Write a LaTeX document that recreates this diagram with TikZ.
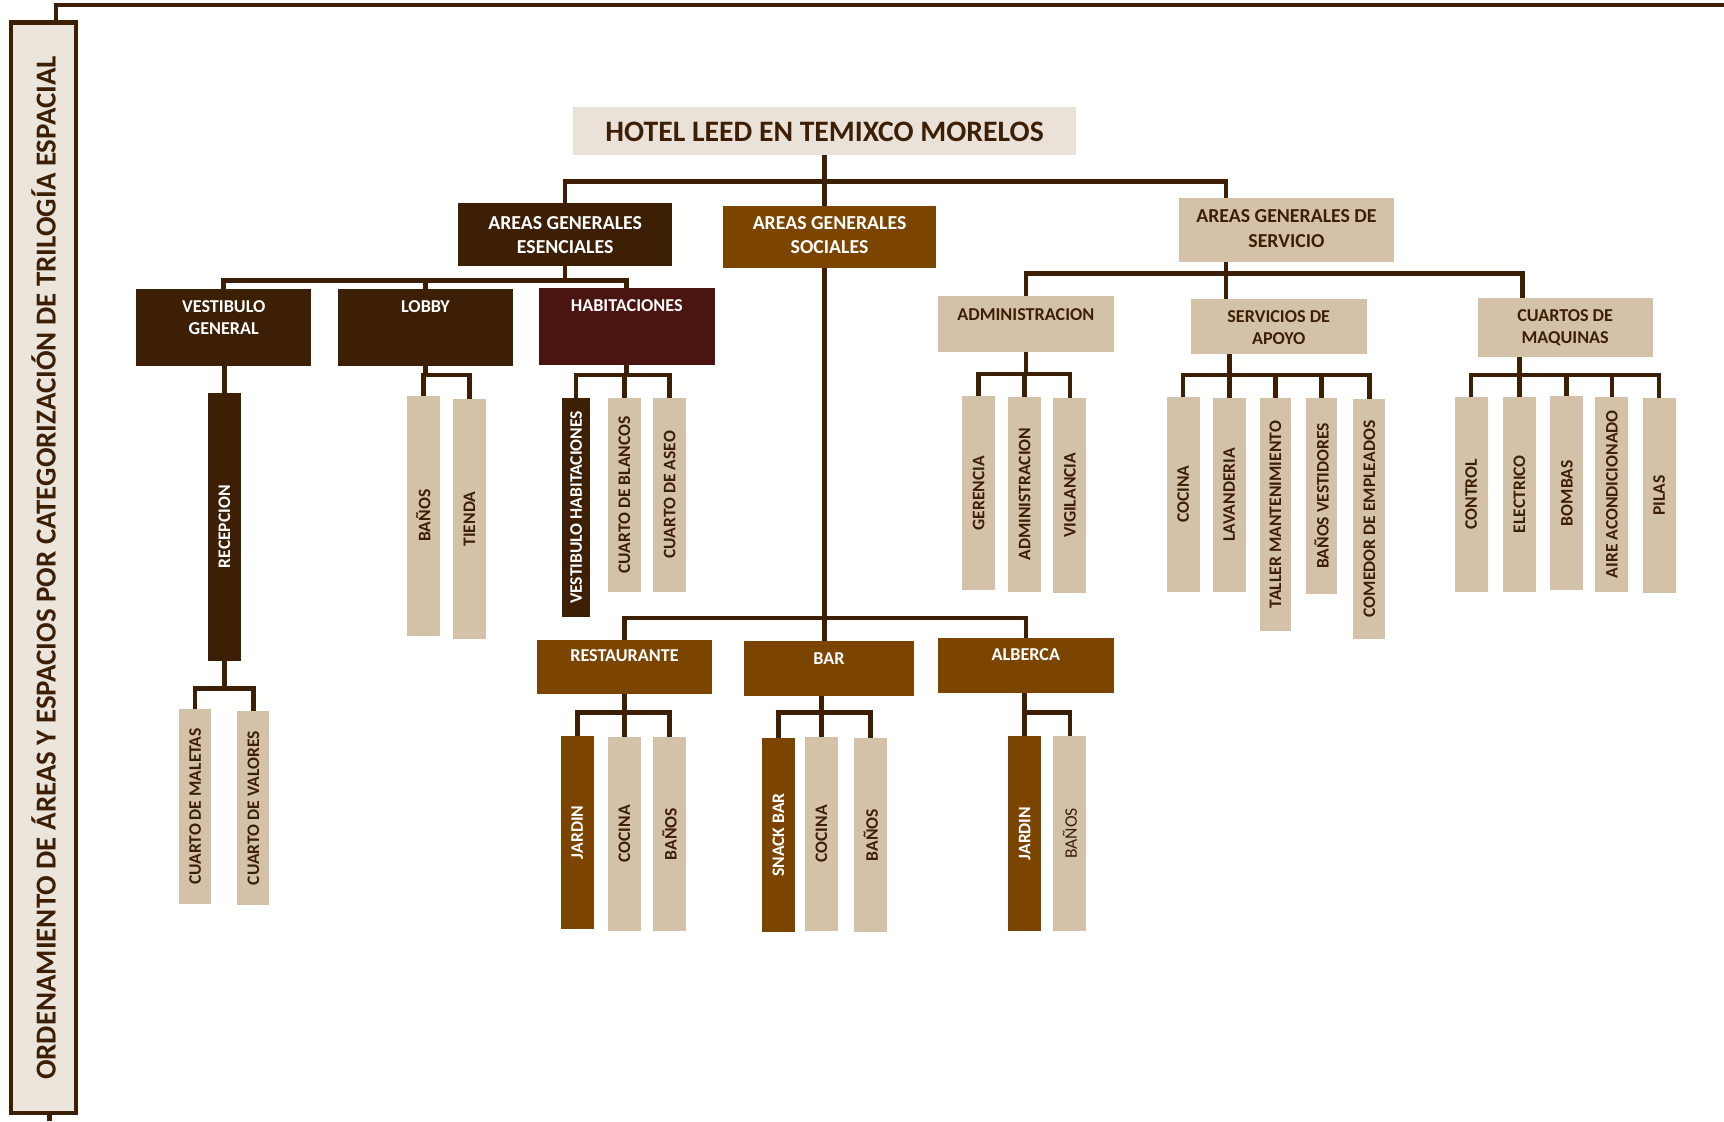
\documentclass[tikz,border=0pt]{standalone}
\usepackage{fontspec}
\setmainfont{Carlito}
\usepackage{graphicx}
\usetikzlibrary{calc}
\definecolor{cDark}{HTML}{3D1F06}
\definecolor{cRed}{HTML}{4A1411}
\definecolor{cBrown}{HTML}{7B4500}
\definecolor{cTan}{HTML}{D4C2A8}
\definecolor{cPale}{HTML}{EAE2D8}
\definecolor{cFrame}{HTML}{ECE5DC}

% horizontal box: name, style, x1, y1, x2, y2, last baseline, text
\newcommand\HB[8]{%
  \pgfmathsetmacro\hbW{#5-#3}%
  \pgfmathsetmacro\hbT{#7-#4}%
  \pgfmathsetmacro\hbD{#6-#7}%
  \node[hbx,#2,minimum width=\hbW pt,text height=\hbT pt,text depth=\hbD pt] (#1) at (#3,#4) {#8};}
% upright box with text turned to read bottom to top: name, style, x1, y1, x2, y2, text
\newcommand\VB[7]{%
  \pgfmathsetmacro\vbW{#5-#3}%
  \pgfmathsetmacro\vbH{#6-#4}%
  \node[vbx,#2,minimum width=\vbW pt,minimum height=\vbH pt] (#1) at (#3,#4) {\rotatebox{90}{#7}};}
% tree connector: parent, node giving the stem x, bus y, children
\newcommand\Bus[4]{%
  \coordinate (j-#1) at (#2.north |- 0,#3);
  \draw[conn] (#1.south -| j-#1) -- (j-#1);
  \foreach \ch in {#4} {\draw[conn] (j-#1) -| (\ch.north);}}

\begin{document}
\begin{tikzpicture}[x=1pt,y=-1pt,
  conn/.style={draw=cDark,line width=4.2pt,line join=miter},
  hbx/.style={anchor=north west,inner xsep=0pt,inner ysep=0pt,outer sep=0pt,align=center},
  vbx/.style={anchor=north west,inner sep=0pt,outer sep=0pt,font=\fontsize{16}{19}\selectfont\bfseries},
  dk/.style={fill=cDark,text=white},
  rd/.style={fill=cRed,text=white},
  br/.style={fill=cBrown,text=white},
  tn/.style={fill=cTan,text=cDark},
  fbig/.style={font=\fontsize{18}{22}\selectfont\bfseries},
  fmid/.style={font=\fontsize{16.5}{20}\selectfont\bfseries},
]
\useasboundingbox[fill=white] (0,0) rectangle (1568,1020);

% side frame with the vertical caption
\node[draw=cDark,line width=4.2pt,fill=cFrame,inner sep=0pt,anchor=north west,
      minimum width=59.2pt,minimum height=991.7pt,text=cDark,
      font=\fontsize{26.3}{30}\selectfont\bfseries] (frame) at (7.9,18.6)
  {\rotatebox{90}{ORDENAMIENTO DE ÁREAS Y ESPACIOS POR CATEGORIZACIÓN DE TRILOGÍA ESPACIAL}};
\coordinate (frameEnd) at (1568,4.5);
\coordinate (frameFoot) at (44.9,1020);
\draw[draw=cDark,line width=3.8pt,line join=miter] ($(frame.north)+(11,0)$) |- (frameEnd);
\draw[conn] (frame.south -| frameFoot) -- (frameFoot);

% title
\HB{title}{fill=cPale,text=cDark,font=\fontsize{27}{32}\selectfont\bfseries}{521}{97}{979}{141}{128.7}{HOTEL LEED EN TEMIXCO MORELOS}

% first level
\HB{esen}{dk,fbig}{417}{185}{611}{242}{230.8}{AREAS GENERALES\\ESENCIALES}
\HB{soc}{br,fbig}{658}{187}{851}{244}{230.8}{AREAS GENERALES\\SOCIALES}
\HB{serv}{tn,fbig}{1072}{180}{1268}{238}{224.8}{AREAS GENERALES DE\\SERVICIO}

% second level
\HB{vest}{dk,fmid}{124}{263}{283}{333}{304.3}{VESTIBULO\\GENERAL}
\HB{lobby}{dk,fmid}{307}{263}{467}{333}{284.3}{LOBBY}
\HB{hab}{rd,fmid}{490}{262}{650}{332}{283.3}{HABITACIONES}
\HB{adm}{tn,fmid}{853}{269}{1013}{320}{291.3}{ADMINISTRACION}
\HB{apo}{tn,fmid}{1083}{272}{1243}{322}{313.3}{SERVICIOS DE\\APOYO}
\HB{cua}{tn,fmid}{1344}{271}{1503}{325}{312.3}{CUARTOS DE\\MAQUINAS}
\HB{rest}{br,fmid}{488}{582}{648}{631}{601.3}{RESTAURANTE}
\HB{bar}{br,fmid}{677}{583}{831}{633}{604.3}{BAR}
\HB{alb}{br,fmid}{853}{580}{1013}{630}{600.3}{ALBERCA}

% vestibulo general
\VB{rec}{dk}{189}{357}{219}{601}{RECEPCION}
\VB{mal}{tn}{163}{645}{192}{822}{CUARTO DE MALETAS}
\VB{val}{tn}{216}{647}{245}{823}{CUARTO DE VALORES}
% lobby
\VB{lban}{tn}{370}{360}{400}{578}{BAÑOS}
\VB{tie}{tn}{412}{363}{442}{581}{TIENDA}
% habitaciones
\VB{vhab}{dk}{511}{362}{537}{561}{VESTIBULO HABITACIONES}
\VB{bla}{tn}{553}{362}{583}{538}{CUARTO DE BLANCOS}
\VB{ase}{tn}{594}{362}{624}{538}{CUARTO DE ASEO}
% administracion
\VB{ger}{tn}{875}{360}{905}{537}{GERENCIA}
\VB{adm2}{tn}{917}{361}{947}{538}{ADMINISTRACION}
\VB{vig}{tn}{958}{362}{988}{539}{VIGILANCIA}
% servicios de apoyo
\VB{coc1}{tn}{1061}{361}{1091}{538}{COCINA}
\VB{lav}{tn}{1103}{362}{1133}{538}{LAVANDERIA}
\VB{tal}{tn}{1146}{362}{1174}{574}{TALLER MANTENIMIENTO}
\VB{bv}{tn}{1188}{362}{1216}{540}{BAÑOS VESTIDORES}
\VB{com}{tn}{1231}{363}{1260}{581}{COMEDOR DE EMPLEADOS}
% cuartos de maquinas
\VB{con}{tn}{1323}{361}{1353}{538}{CONTROL}
\VB{ele}{tn}{1367}{361}{1397}{538}{ELECTRICO}
\VB{bom}{tn}{1410}{360}{1440}{537}{BOMBAS}
\VB{air}{tn}{1451}{361}{1481}{538}{AIRE ACONDICIONADO}
\VB{pil}{tn}{1494}{362}{1524}{539}{PILAS}
% restaurante
\VB{rjar}{br}{510}{669}{540}{845}{JARDIN}
\VB{rcoc}{tn}{553}{670}{583}{847}{COCINA}
\VB{rban}{tn}{594}{670}{624}{847}{BAÑOS}
% bar
\VB{snk}{br}{693}{671}{723}{848}{SNACK BAR}
\VB{bcoc}{tn}{732}{670}{762}{847}{COCINA}
\VB{bban}{tn}{777}{671}{807}{848}{BAÑOS}
% alberca
\VB{ajar}{br}{917}{669}{947}{847}{JARDIN}
\VB{aban}{tn,font=\fontsize{16}{19}\selectfont}{958}{669}{988}{847}{BAÑOS}

% connectors: top level
\coordinate (jServTop) at (1115,165);
\draw[conn] (title.south) -- (title.south |- soc.north);
\draw[conn] (esen.north) |- (jServTop) -- (jServTop |- serv.north);

% servicio
\coordinate (jServ) at (1115,249);
\coordinate (jCua) at (1384.5,249);
\draw[conn] (serv.south -| jServ) -- (jServ);
\draw[conn] (jServ) -| (adm.north);
\draw[conn] (jServ) -- (jServ |- apo.north);
\draw[conn] (jServ) -- (jCua) -- (jCua |- cua.north);

% sociales
\coordinate (jSoc) at (title.south |- 0,562);
\draw[conn] (soc.south -| jSoc) -- (jSoc);
\draw[conn] (jSoc) -| (rest.north);
\draw[conn] (jSoc) -- (jSoc |- bar.north);
\draw[conn] (jSoc) -| (alb.north);

% esenciales
\Bus{esen}{esen}{255}{vest,lobby,hab}
\draw[conn] (vest.south -| rec.north) -- (rec.north);
\Bus{rec}{rec}{626}{mal,val}
\Bus{lobby}{lobby}{341}{lban,tie}
\Bus{hab}{hab}{341}{vhab,bla,ase}

% servicio groups
\Bus{adm}{adm}{340}{ger,adm2,vig}
\Bus{apo}{lav}{341}{coc1,lav,tal,bv,com}
\Bus{cua}{ele}{341}{con,ele,bom,air,pil}

% sociales groups
\Bus{rest}{rcoc}{648}{rjar,rcoc,rban}
\Bus{bar}{bcoc}{648}{snk,bcoc,bban}
\Bus{alb}{ajar}{648}{ajar,aban}
\end{tikzpicture}
\end{document}
